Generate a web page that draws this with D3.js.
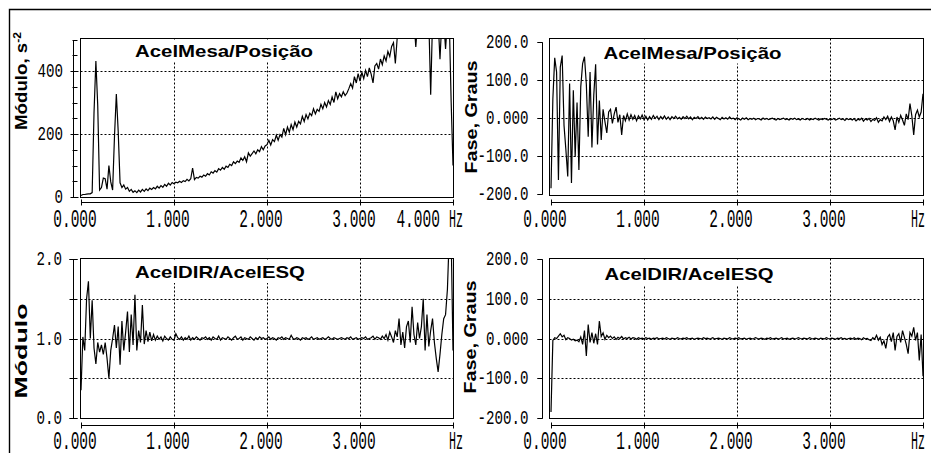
<!DOCTYPE html>
<html>
<head>
<meta charset="utf-8">
<script src="https://cdnjs.cloudflare.com/ajax/libs/d3/7.8.5/d3.min.js"></script>
<style>
  body { margin: 0; background: #fff; }
  svg { display: block; }
</style>
</head>
<body>
<svg id="chart" width="931" height="453"></svg>
<script>
// frequency resolution of the spectra (Hz per bin), bins start at 0 Hz
const freqStep = 0.02;

// AcelMesa/Posição - módulo (s^-2)
const modTop = [
  5, 8, 8, 9, 10, 10, 14, 268, 432, 290,
  22, 30, 60, 58, 25, 100, 48, 22, 192, 327,
  208, 45, 30, 38, 25, 30, 18, 24, 15, 20,
  14, 22, 16, 24, 18, 26, 20, 28, 24, 30,
  26, 34, 28, 36, 31, 40, 34, 44, 38, 46,
  42, 47, 45, 50, 46, 52, 49, 56, 51, 58,
  92, 55, 62, 60, 66, 63, 70, 66, 74, 70,
  80, 76, 84, 79, 90, 85, 94, 88, 98, 94,
  104, 100, 112, 106, 114, 110, 124, 116, 128, 112,
  140, 130, 138, 146, 137, 150, 144, 160, 150, 162,
  166, 180, 165, 182, 176, 196, 180, 198, 190, 218,
  198, 222, 206, 230, 214, 238, 222, 240, 232, 256,
  240, 262, 248, 266, 258, 280, 264, 278, 272, 294,
  280, 300, 286, 306, 294, 318, 300, 334, 312, 328,
  318, 334, 322, 330, 344, 360, 346, 382, 362, 392,
  368, 396, 376, 402, 382, 410, 390, 362, 416, 424,
  406, 438, 420, 448, 432, 462, 446, 478, 490, 424,
  505, 520, 540, 560, 560, 560, 560, 560, 560, 560,
  476, 560, 560, 560, 560, 560, 560, 560, 325, 560,
  560, 560, 560, 437, 560, 560, 470, 560, 560, 304,
  100
];

// AcelMesa/Posição - fase (graus)
const phaseTop = [
  -185, 50, 157, 120, -163, 133, 163, -20, -84, -154,
  90, -171, 72, -102, 40, -137, 81, 142, 160, 87,
  -50, 120, -78, 60, 140, -70, 45, -58, 22, -10,
  -40, 15, 22, -15, 10, 28, -12, 8, -45, 6,
  -8, 10, -6, 8, -4, 6, -8, 5, -3, 7,
  -5, 4, -6, 3, -4, 6, -2, 4, -5, 3,
  -3, 5, -4, 2, -5, 3, -2, 4, -3, 1,
  -4, 3, -2, 4, -3, 2, -5, 1, -2, 3,
  -3, 1, -4, 2, -2, 0, -3, 2, -4, 1,
  -2, -5, 1, -3, 0, -4, 2, -3, -1, -5,
  0, -3, -6, -1, -4, 0, -5, -2, -4, -1,
  -5, -2, -3, -6, -1, -4, -2, -5, -3, -1,
  -4, -6, -2, -5, -3, -1, -5, -3, -6, -2,
  -4, -1, -5, -3, -6, -2, -4, -5, -2, -6,
  -3, -5, -1, -4, -6, -3, -5, -2, -4, -6,
  -3, -5, -2, -6, -4, -1, -5, -3, -7, -2,
  -5, -3, -6, -2, -8, -4, -6, -1, -9, -3,
  -6, -2, -10, -4, -7, 0, -12, -5, -8, 2,
  -5, 4, -10, 2, -8, -32, 2, -12, 6, -6,
  -20, 10, -5, 37, 5, -45, 8, 20, 2, 15,
  63
];

// AcelDIR/AcelESQ - módulo
const modBottom = [
  0.35, 1.02, 0.85, 1.50, 1.72, 1.00, 1.48, 0.88, 0.68, 0.95,
  0.83, 0.92, 0.80, 0.95, 0.75, 0.50, 0.85, 1.00, 1.17, 0.88,
  1.15, 0.67, 1.22, 0.85, 1.08, 1.34, 0.83, 1.30, 0.92, 1.55,
  0.85, 1.10, 0.95, 1.42, 0.93, 1.10, 0.96, 1.08, 0.97, 1.05,
  0.98, 1.03, 0.99, 1.02, 0.97, 1.03, 1.00, 0.98, 1.02, 0.99,
  0.98, 1.06, 1.01, 0.99, 1.02, 0.98, 1.01, 0.99, 1.03, 0.98,
  1.01, 0.99, 1.02, 1.00, 0.98, 1.01, 1.00, 1.02, 0.99, 1.01,
  0.98, 1.02, 1.00, 0.99, 1.03, 0.98, 1.01, 1.00, 0.99, 1.02,
  1.00, 0.98, 1.01, 1.03, 0.99, 1.00, 1.02, 0.98, 1.01, 1.00,
  0.99, 1.02, 1.00, 0.98, 1.01, 0.99, 1.02, 1.00, 1.01, 0.99,
  1.00, 1.02, 0.99, 1.01, 1.00, 0.98, 1.01, 1.00, 1.02, 0.99,
  1.01, 1.00, 0.99, 1.04, 1.00, 0.99, 1.01, 1.00, 0.98, 1.01,
  1.00, 1.01, 0.99, 1.00, 1.02, 0.99, 1.00, 1.01, 0.99, 1.00,
  1.01, 0.99, 1.00, 1.02, 1.00, 0.99, 1.01, 1.00, 0.99, 1.00,
  1.01, 1.00, 0.99, 1.01, 1.00, 1.02, 0.99, 1.00, 1.01, 0.99,
  1.00, 1.01, 1.00, 1.02, 0.99, 1.00, 1.01, 1.03, 0.99, 1.02,
  1.01, 0.99, 1.03, 1.00, 1.05, 0.98, 1.08, 1.02, 0.95, 1.10,
  1.02, 1.25, 0.92, 1.08, 0.88, 1.15, 1.22, 0.95, 1.40, 1.05,
  0.92, 1.20, 1.00, 1.15, 1.50, 0.85, 1.30, 0.90, 1.10, 1.25,
  0.95, 0.75, 0.58, 0.80, 1.05, 1.25, 1.30, 1.62, 2.30, 2.30,
  0.85
];

// AcelDIR/AcelESQ - fase (graus)
const phaseBottom = [
  -185, -5, 2, 0, 6, 12, 4, 8, -3, 2,
  0, -4, -2, -6, -4, -8, 4, -15, 20, -44,
  35, -10, 15, -12, 12, -15, 44, 5, 14, -2,
  8, 2, 6, 0, 4, -2, 3, 0, 5, -1,
  2, 0, 3, -1, 2, 1, -2, 2, 0, 1,
  -1, 2, 0, 1, -2, 1, 0, 2, -1, 0,
  1, -1, 2, 0, -2, 1, 0, -1, 2, 0,
  -1, 1, 0, 2, -1, 0, 1, -2, 0, 1,
  0, -1, 2, 0, 1, -1, 0, 2, -1, 0,
  1, 0, -2, 1, 0, -1, 2, 0, -1, 1,
  0, 2, -1, 0, 1, -2, 0, 1, -1, 0,
  2, 0, -1, 1, 0, -2, 1, 0, 2, -1,
  0, 1, -1, 0, 2, -1, 0, 1, -2, 0,
  1, -1, 0, 2, 0, -1, 1, 0, -1, 2,
  0, -1, 1, 0, -2, 1, 0, -1, 2, 0,
  -1, 1, 0, -2, 1, 0, 2, -1, 0, -2,
  0, 1, -1, 2, -2, 1, 0, -3, 2, -1,
  0, -3, -5, 2, -2, 8, -4, 3, -15, -6,
  -25, 4, 10, -8, 15, -30, 5, 12, -10, 20,
  3, -15, -38, 15, 6, 28, -5, 15, -55, 10,
  -95
];

// axes
const freqDomain = [0, 4];
const freqGrid = [1, 2, 3];
const freqTicks = [0, 1, 2, 3, 4];
const freqLabels = ["0.000", "1.000", "2.000", "3.000"];
// the magnitude plot on top also carries a stray "4.000" label left of "Hz"
const freqLabelsTopLeft = ["0.000", "1.000", "2.000", "3.000", "4.000"];
const freqLabelPosTopLeft = [0, 1, 2, 3, 3.69];
const freqUnit = "Hz";

const modTopTicks = [0, 200, 400];
const modTopTickLabels = ["0", "200", "400"];
const modTopMinor = [0, 50, 100, 150, 200, 250, 300, 350, 400, 450, 500];
const modTopGrid = [200, 400];

const phaseTicks = [-200, -100, 0, 100, 200];
const phaseTickLabels = ["-200.0", "-100.0", "0.000", "100.0", "200.0"];
const phaseGrid = [-100, 0, 100];

const modBottomTicks = [0, 1, 2];
const modBottomTickLabels = ["0.0", "1.0", "2.0"];
const modBottomMinor = [0, 0.5, 1, 1.5, 2];
const modBottomGrid = [0.5, 1, 1.5];

const svg = d3.select("#chart");
const crisp = v => Math.round(v) + 0.5;

// outer frame (only top and left edges show)
svg.append("path")
    .attr("d", "M9.5,453V9.5H931")
    .attr("fill", "none")
    .attr("stroke", "#000")
    .attr("stroke-width", 1.4);

function drawPanel(p) {
    const x = d3.scaleLinear().domain(freqDomain).range([p.x0, p.x1]);
    const y = d3.scaleLinear().domain(p.yDomain).range([p.yBottom, p.yTop]);
    const [bl, bt, br, bb] = p.box;
    const g = svg.append("g");

    const clipId = "clip-" + p.id;
    svg.append("clipPath").attr("id", clipId)
        .append("rect")
        .attr("x", bl).attr("y", bt)
        .attr("width", br - bl).attr("height", bb - bt);

    // dotted grid
    g.selectAll("line.hgrid").data(p.grid).join("line")
        .attr("class", "hgrid")
        .attr("x1", bl).attr("x2", br)
        .attr("y1", d => crisp(y(d))).attr("y2", d => crisp(y(d)))
        .attr("stroke", "#000").attr("stroke-dasharray", "2,2");
    g.selectAll("line.vgrid").data(freqGrid).join("line")
        .attr("class", "vgrid")
        .attr("x1", d => crisp(x(d))).attr("x2", d => crisp(x(d)))
        .attr("y1", bt).attr("y2", bb)
        .attr("stroke", "#000").attr("stroke-dasharray", "2,2");

    // title on a white patch that hides the grid behind it
    g.append("rect")
        .attr("x", p.titleX - p.titleW / 2 - 9)
        .attr("y", bt + 1)
        .attr("width", p.titleW + 18)
        .attr("height", p.titleY + 5 - bt - 1)
        .attr("fill", "#fff");
    g.append("text")
        .attr("x", p.titleX).attr("y", p.titleY)
        .attr("text-anchor", "middle")
        .attr("textLength", p.titleW).attr("lengthAdjust", "spacingAndGlyphs")
        .style("font-family", "'Liberation Sans', Arial, sans-serif")
        .style("font-weight", "bold").style("font-size", "17px")
        .text(p.title);

    // spectrum
    const line = d3.line()
        .x((d, i) => x(i * freqStep))
        .y(d => y(d));
    g.append("path")
        .datum(p.values)
        .attr("clip-path", `url(#${clipId})`)
        .attr("fill", "none")
        .attr("stroke", "#000")
        .attr("stroke-width", 1.2)
        .attr("d", line);

    // plot frame
    g.append("rect")
        .attr("x", bl).attr("y", bt)
        .attr("width", br - bl).attr("height", bb - bt)
        .attr("fill", "none").attr("stroke", "#000");

    // y axis
    const ax = p.yAxisX;
    g.append("line")
        .attr("x1", ax).attr("x2", ax)
        .attr("y1", crisp(y(p.yDomain[1]))).attr("y2", crisp(y(p.yDomain[0])))
        .attr("stroke", "#000");
    g.selectAll("line.minor").data(p.minor).join("line")
        .attr("class", "minor")
        .attr("x1", ax + p.minorTick[0]).attr("x2", ax + p.minorTick[1])
        .attr("y1", d => crisp(y(d))).attr("y2", d => crisp(y(d)))
        .attr("stroke", "#000");
    g.selectAll("line.major").data(p.ticks).join("line")
        .attr("class", "major")
        .attr("x1", ax + p.majorTick[0]).attr("x2", ax + p.majorTick[1])
        .attr("y1", d => crisp(y(d))).attr("y2", d => crisp(y(d)))
        .attr("stroke", "#000");
    g.selectAll("text.ytick").data(p.ticks).join("text")
        .attr("class", "ytick")
        .attr("x", p.yLabelRight)
        .attr("y", d => y(d) + 6)
        .attr("text-anchor", "end")
        .attr("textLength", (d, i) => p.tickLabels[i].length * 8.5)
        .attr("lengthAdjust", "spacingAndGlyphs")
        .style("font-family", "'Liberation Mono', monospace")
        .style("font-size", "21px")
        .text((d, i) => p.tickLabels[i]);

    // y axis title
    const yt = g.append("text")
        .attr("transform", `translate(${p.yTitleX},${p.yTitleY}) rotate(-90)`)
        .attr("text-anchor", "middle")
        .attr("textLength", p.yTitleW).attr("lengthAdjust", "spacingAndGlyphs")
        .style("font-family", "'Liberation Sans', Arial, sans-serif")
        .style("font-weight", "bold").style("font-size", "17px")
        .text(p.yTitle);
    if (p.yTitleSup) {
        yt.append("tspan")
            .attr("baseline-shift", "super")
            .style("font-size", "11px")
            .text(p.yTitleSup);
    }

    // frequency axis
    const ay = p.xAxisY;
    g.append("line")
        .attr("x1", x(freqDomain[0])).attr("x2", x(freqDomain[1]))
        .attr("y1", ay).attr("y2", ay)
        .attr("stroke", "#000");
    g.selectAll("line.xtick").data(freqTicks).join("line")
        .attr("class", "xtick")
        .attr("x1", d => crisp(x(d))).attr("x2", d => crisp(x(d)))
        .attr("y1", ay - 3).attr("y2", ay + 3)
        .attr("stroke", "#000");
    g.selectAll("text.xtick").data(p.xLabels).join("text")
        .attr("class", "xtick")
        .attr("x", (d, i) => x(p.xLabelPos[i]) - 6)
        .attr("y", p.xLabelY)
        .attr("text-anchor", "middle")
        .attr("textLength", d => d.length * 8.7)
        .attr("lengthAdjust", "spacingAndGlyphs")
        .style("font-family", "'Liberation Mono', monospace")
        .style("font-size", "26px")
        .text(d => d);
    g.append("text")
        .attr("x", Math.min(x(freqDomain[1]) + 10, 925))
        .attr("y", p.xLabelY)
        .attr("text-anchor", "end")
        .attr("textLength", 14)
        .attr("lengthAdjust", "spacingAndGlyphs")
        .style("font-family", "'Liberation Mono', monospace")
        .style("font-size", "26px")
        .text(freqUnit);
}

drawPanel({
    id: "modTop", values: modTop,
    x0: 81, x1: 453, yDomain: [0, 500], yBottom: 197, yTop: 39.5,
    box: [80.5, 38.5, 453.5, 197.5],
    grid: modTopGrid, ticks: modTopTicks, tickLabels: modTopTickLabels, minor: modTopMinor,
    majorTick: [-3, 5], minorTick: [-1, 4],
    yAxisX: 73.5, yLabelRight: 63, xAxisY: 202.5, xLabelY: 227,
    xLabels: freqLabelsTopLeft, xLabelPos: freqLabelPosTopLeft,
    title: "AcelMesa/Posição", titleX: 224, titleY: 56.5, titleW: 178,
    yTitle: "Módulo, s", yTitleSup: "-2", yTitleX: 26.5, yTitleY: 81, yTitleW: 98
});

drawPanel({
    id: "phaseTop", values: phaseTop,
    x0: 551, x1: 923, yDomain: [-200, 200], yBottom: 194, yTop: 41.5,
    box: [549.5, 38.5, 923.5, 195.5],
    grid: phaseGrid, ticks: phaseTicks, tickLabels: phaseTickLabels, minor: phaseTicks,
    majorTick: [-5, 0], minorTick: [-5, 0],
    yAxisX: 542.5, yLabelRight: 528.5, xAxisY: 202.5, xLabelY: 227,
    xLabels: freqLabels, xLabelPos: freqTicks,
    title: "AcelMesa/Posição", titleX: 692.5, titleY: 58.5, titleW: 178,
    yTitle: "Fase, Graus", yTitleX: 477, yTitleY: 117, yTitleW: 113
});

drawPanel({
    id: "modBottom", values: modBottom,
    x0: 81, x1: 453, yDomain: [0, 2], yBottom: 418, yTop: 259,
    box: [80.5, 258.5, 453.5, 418.5],
    grid: modBottomGrid, ticks: modBottomTicks, tickLabels: modBottomTickLabels, minor: modBottomMinor,
    majorTick: [-4, 4], minorTick: [-4, 4],
    yAxisX: 73.5, yLabelRight: 62, xAxisY: 425.5, xLabelY: 449,
    xLabels: freqLabels, xLabelPos: freqTicks,
    title: "AcelDIR/AcelESQ", titleX: 220, titleY: 278, titleW: 170,
    yTitle: "Módulo", yTitleX: 26.5, yTitleY: 351, yTitleW: 95
});

drawPanel({
    id: "phaseBottom", values: phaseBottom,
    x0: 551, x1: 923, yDomain: [-200, 200], yBottom: 418, yTop: 259,
    box: [549.5, 258.5, 923.5, 418.5],
    grid: phaseGrid, ticks: phaseTicks, tickLabels: phaseTickLabels, minor: phaseTicks,
    majorTick: [-5, 0], minorTick: [-5, 0],
    yAxisX: 542.5, yLabelRight: 528.5, xAxisY: 425.5, xLabelY: 449,
    xLabels: freqLabels, xLabelPos: freqTicks,
    title: "AcelDIR/AcelESQ", titleX: 689, titleY: 280, titleW: 169,
    yTitle: "Fase, Graus", yTitleX: 476, yTitleY: 337, yTitleW: 113
});
</script>
</body>
</html>
